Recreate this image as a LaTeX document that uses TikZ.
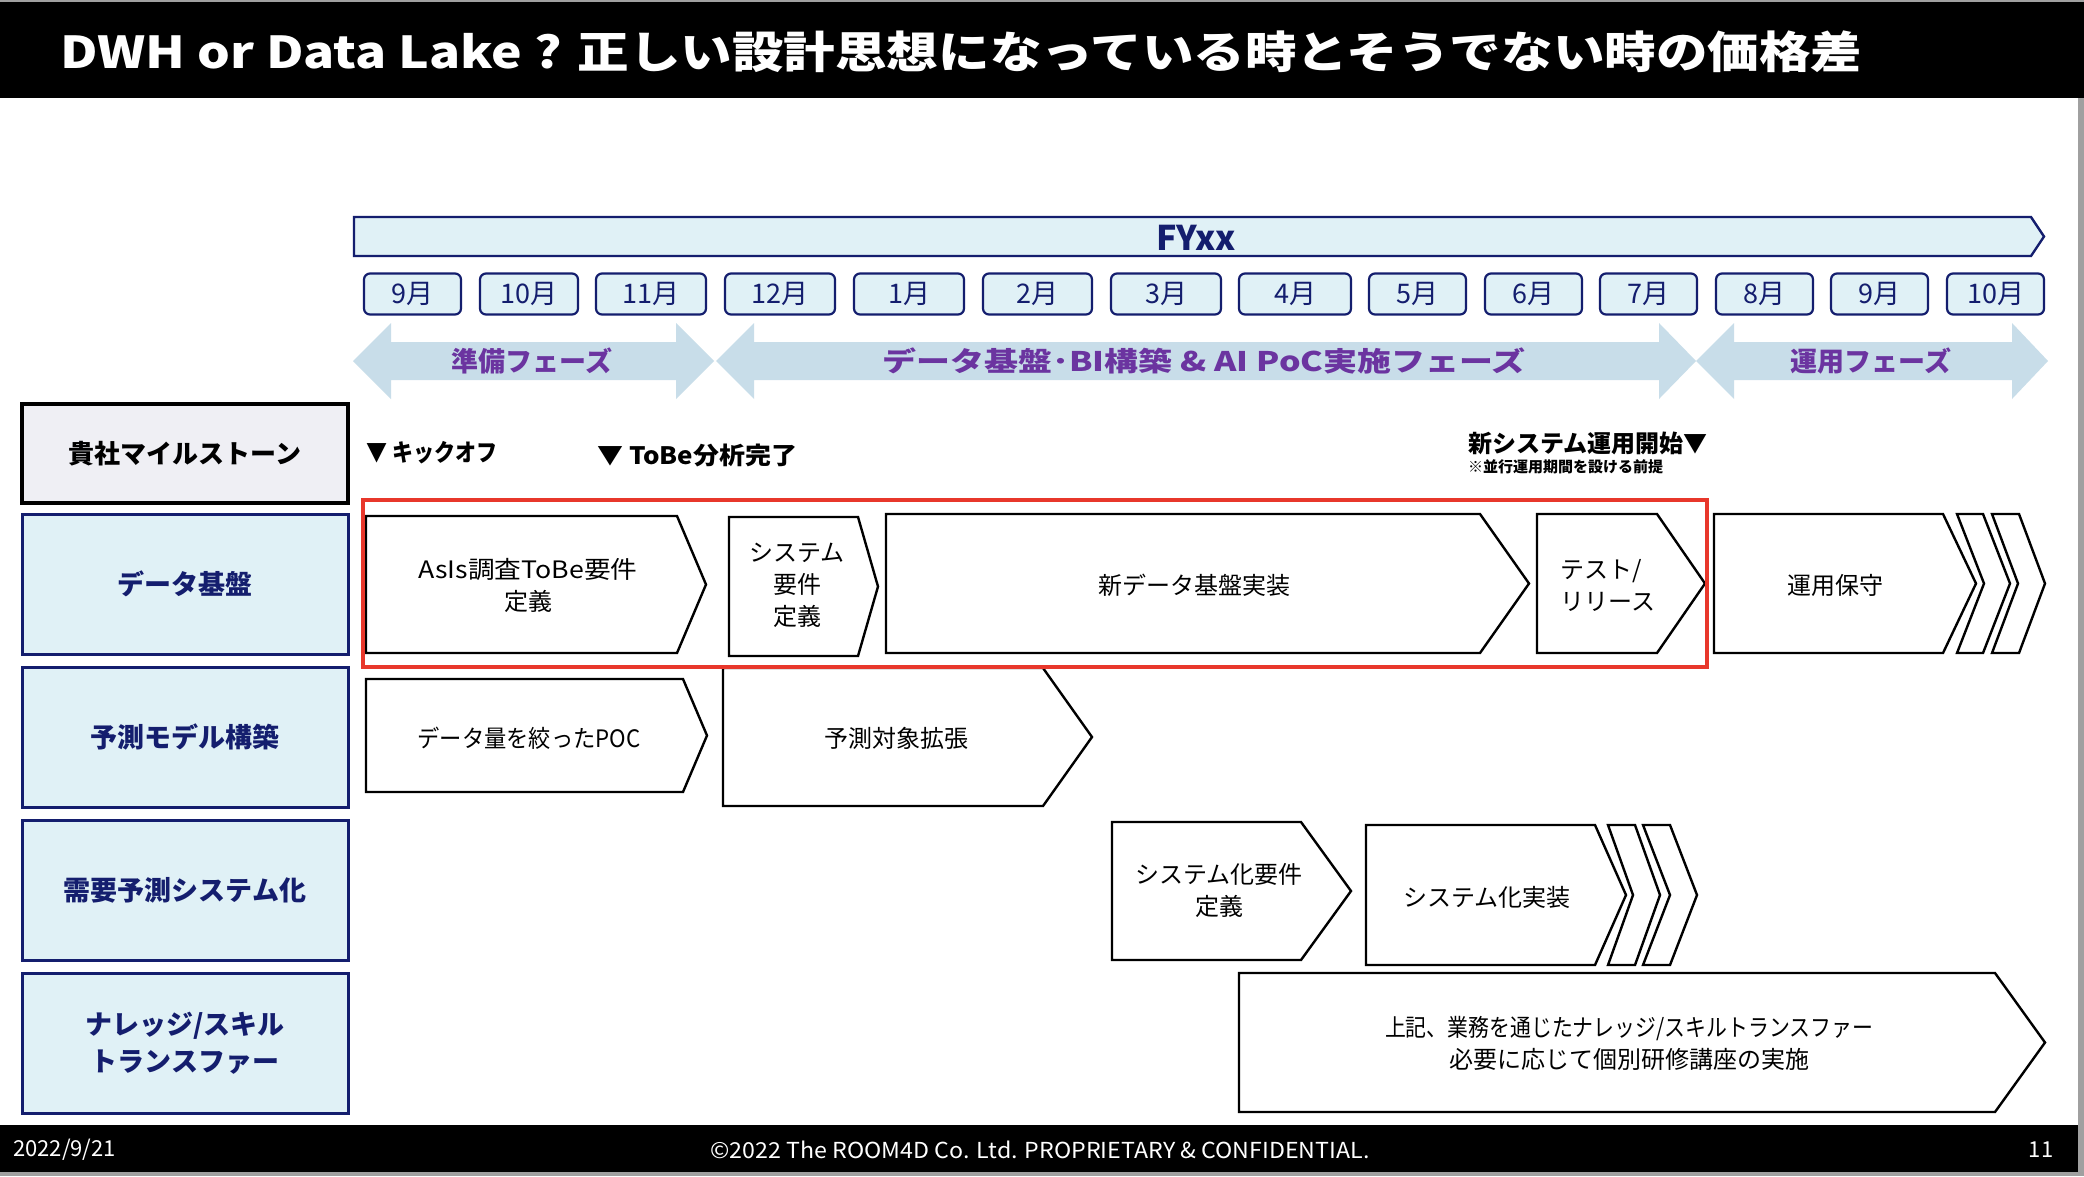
\documentclass[tikz,border=0pt]{standalone}
\usepackage{fontspec}
\usepackage{graphicx}
\setmainfont{Noto Sans CJK JP}
\definecolor{navy}{RGB}{20,30,110}
\definecolor{lblue}{RGB}{224,241,246}
\definecolor{phase}{RGB}{200,221,233}
\definecolor{purp}{RGB}{107,52,160}
\definecolor{mgray}{RGB}{239,239,244}
\definecolor{redb}{RGB}{232,55,43}
\definecolor{edge}{RGB}{160,160,160}
\newcommand\fs[2]{\fontsize{#1}{#2}\selectfont}
\newcommand\fitw[2]{\resizebox{#1}{\height}{#2}}
\newcommand\chevron[5]{\draw[chev] (#1,#4) -- (#2,#4) -- (#3,{(#4+#5)/2}) -- (#2,#5) -- (#1,#5) -- cycle;}
\newcommand\stripe[5]{\draw[chev] (#1,#4) -- (#2,#4) -- (#3,{(#4+#5)/2}) -- (#2,#5) -- (#1,#5) -- ({#1+#3-#2},{(#4+#5)/2}) -- cycle;}
\newcommand\dblarrow[5]{\fill[phase] (#1,361) -- (#2,323) -- (#2,342) -- (#3,342) -- (#3,323) -- (#4,361) -- (#3,399) -- (#3,380) -- (#2,380) -- (#2,399) -- cycle;}
\tikzset{
  chev/.style={draw=black, fill=white, line width=2.4pt, line join=miter},
  month/.style={draw=navy, fill=lblue, line width=2.2pt, rounded corners=6pt, text=navy, font=\fs{27}{30}, inner sep=0pt},
  lab/.style={draw=navy, fill=lblue, line width=3pt, text=navy, font=\bfseries\fs{27}{37}, align=center, inner sep=0pt},
  ctext/.style={font=\fs{24}{32}, align=center, text=black, inner sep=0pt},
  ptext/.style={font=\bfseries\fs{27}{30}, text=purp, inner sep=0pt},
  mtext/.style={font=\bfseries\fs{24}{28}, text=black, inner sep=0pt, anchor=west},
}
\begin{document}
\begin{tikzpicture}[x=1pt,y=-1pt]
\useasboundingbox (0,0) rectangle (2084,1176);
% background and frame
\fill[edge] (0,0) rectangle (2084,1176);
\fill[white] (0,98) rectangle (2078,1125);
\fill[black] (0,2) rectangle (2084,98);
\fill[black] (0,1125) rectangle (2078,1172);
\node[anchor=west, text=white, font=\bfseries\fs{44}{50}, inner sep=0pt] (title) at (60,52) {\fitw{1802pt}{DWH or Data Lake ? 正しい設計思想になっている時とそうでない時の価格差}};
% footer
\node[anchor=west, text=white, font=\fs{22}{26}, inner sep=0pt] (date) at (13,1150) {2022/9/21};
\node[text=white, font=\fs{22}{26}, inner sep=0pt] (copy) at (1040,1150) {\fitw{659pt}{©2022 The ROOM4D Co. Ltd. PROPRIETARY \& CONFIDENTIAL.}};
\node[text=white, font=\fs{22}{26}, inner sep=0pt] (page) at (2041,1150) {11};
% FY bar
\draw[navy, fill=lblue, line width=2.4pt] (354,217) -- (2031,217) -- (2044,236.5) -- (2031,256) -- (354,256) -- cycle;
\node[text=navy, font=\bfseries\fs{34}{36}, inner sep=0pt] (fy) at (1196,238) {FYxx};
% months
\foreach \a/\b/\t/\n in {364/461/9月/m1, 480/578/10月/m2, 596/706/11月/m3, 725/835/12月/m4, 854/964/1月/m5, 983/1092/2月/m6, 1111/1221/3月/m7, 1239/1351/4月/m8, 1369/1466/5月/m9, 1485/1582/6月/m10, 1600/1697/7月/m11, 1716/1813/8月/m12, 1831/1928/9月/m13, 1947/2044/10月/m14}{
  \node[month, minimum width={(\b-\a)*1pt}, minimum height=41pt] (\n) at ({(\a+\b)/2},294) {\t};
}
% phase arrows
\dblarrow{353}{391}{676}{714}{}
\dblarrow{716}{754}{1659}{1696}{}
\dblarrow{1696}{1734}{2012}{2048}{}
\node[ptext] (ph1) at (532,361) {準備フェーズ};
\node[ptext] (ph2) at (1204,361) {\fitw{643pt}{データ基盤･BI構築 \& AI PoC実施フェーズ}};
\node[ptext] (ph3) at (1871,361) {運用フェーズ};
% row labels
\node[draw=black, fill=mgray, line width=3.5pt, font=\bfseries\fs{26}{30}, inner sep=0pt, minimum width=326pt, minimum height=99pt] (l0) at (185,453.5) {貴社マイルストーン};
\node[lab, minimum width=326pt, minimum height=140pt] (l1) at (185,584) {データ基盤};
\node[lab, minimum width=326pt, minimum height=140pt] (l2) at (185,737) {予測モデル構築};
\node[lab, minimum width=326pt, minimum height=140pt] (l3) at (185,890) {需要予測システム化};
\node[lab, minimum width=326pt, minimum height=140pt] (l4) at (185,1043) {ナレッジ/スキル\\トランスファー};
% milestones
\node[mtext] (ms1) at (366,453) {\fitw{131pt}{▼ キックオフ}};
\node[mtext] (ms2) at (597,455) {\fitw{200pt}{▼ ToBe分析完了}};
\node[mtext] (ms3) at (1468,443) {新システム運用開始▼};
\node[font=\bfseries\fs{15}{18}, inner sep=0pt, anchor=west] (ms3n) at (1468,467) {※並行運用期間を設ける前提};
% row 1
\chevron{366}{677}{706}{516}{653}
\chevron{729}{858}{878}{517}{656}
\chevron{886}{1480}{1529}{514}{653}
\chevron{1537}{1657}{1705}{514}{653}
\chevron{1714}{1943}{1976}{514}{653}
\stripe{1957}{1983}{2010}{514}{653}
\stripe{1992}{2019}{2045}{514}{653}
\node[ctext] (t11) at (528,585) {\fitw{219pt}{AsIs調査ToBe要件}\\定義};
\node[ctext] (t12) at (797,585) {システム\\要件\\定義};
\node[ctext] (t13) at (1194,585) {新データ基盤実装};
\node[ctext, align=left] (t14) at (1608,585) {テスト/\\リリース};
\node[ctext] (t15) at (1835,585) {運用保守};
% row 2
\chevron{366}{683}{707}{679}{792}
\chevron{723}{1043}{1092}{668}{806}
\node[ctext] (t21) at (529,738) {\fitw{223pt}{データ量を絞ったPOC}};
\node[ctext] (t22) at (896,738) {予測対象拡張};
% row 3
\chevron{1112}{1301}{1351}{822}{960}
\chevron{1366}{1595}{1626}{825}{965}
\stripe{1608}{1635}{1660}{825}{965}
\stripe{1643}{1670}{1697}{825}{965}
\node[ctext] (t31) at (1219,890) {システム化要件\\定義};
\node[ctext] (t32) at (1487,897) {システム化実装};
% row 4
\chevron{1239}{1995}{2045}{973}{1112}
\node[ctext] (t41) at (1629,1043) {\fitw{488pt}{上記、業務を通じたナレッジ/スキルトランスファー}\\必要に応じて個別研修講座の実施};
% red frame
\draw[redb, line width=4pt] (363,500) rectangle (1707,667);
\end{tikzpicture}
\end{document}
